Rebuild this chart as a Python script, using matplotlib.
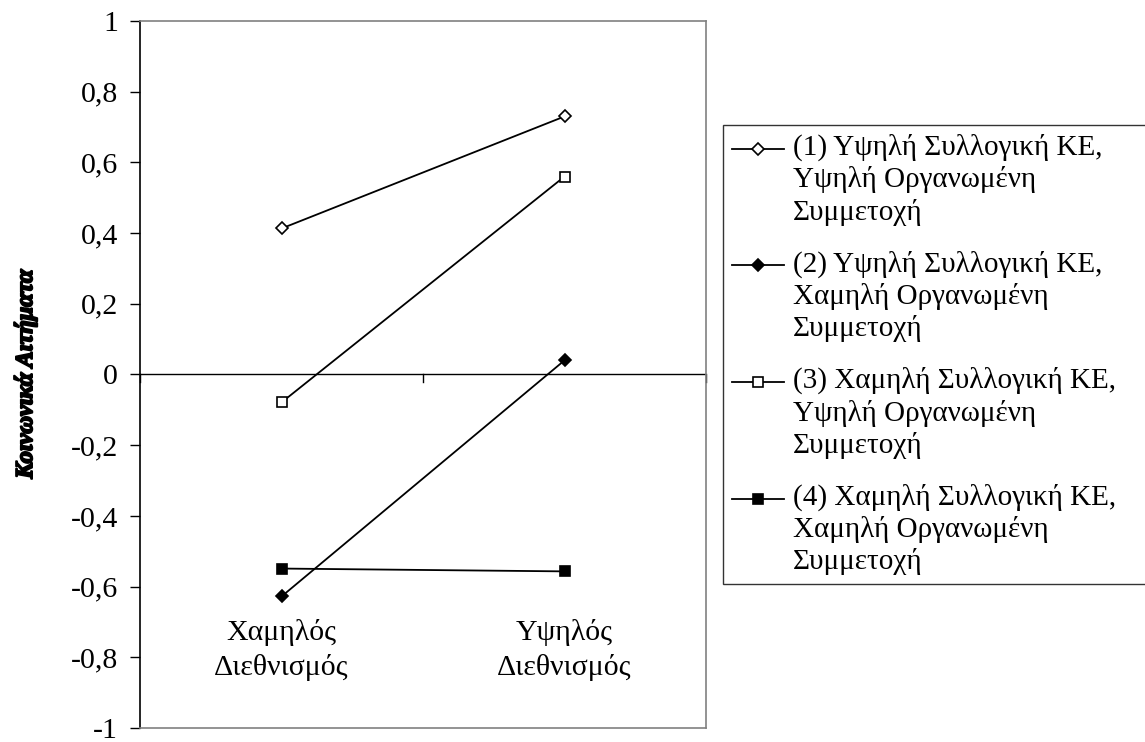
import numpy as np
import matplotlib.pyplot as plt
import matplotlib.patheffects as pe
from matplotlib.legend_handler import HandlerLine2D

plt.rcParams['font.family'] = ['Liberation Serif', 'DejaVu Serif']

categories = ['Χαμηλός\nΔιεθνισμός', 'Υψηλός\nΔιεθνισμός']
labels = [
    '(1) Υψηλή Συλλογική ΚΕ,\nΥψηλή Οργανωμένη\nΣυμμετοχή',
    '(2) Υψηλή Συλλογική ΚΕ,\nΧαμηλή Οργανωμένη\nΣυμμετοχή',
    '(3) Χαμηλή Συλλογική ΚΕ,\nΥψηλή Οργανωμένη\nΣυμμετοχή',
    '(4) Χαμηλή Συλλογική ΚΕ,\nΧαμηλή Οργανωμένη\nΣυμμετοχή',
]
s1 = [0.413, 0.73]
s2 = [-0.628, 0.04]
s3 = [-0.079, 0.56]
s4 = [-0.549, -0.557]
yticks = [-1, -0.8, -0.6, -0.4, -0.2, 0, 0.2, 0.4, 0.6, 0.8, 1]

FS = 21.5      # axis text
LFS = 21       # legend text


class TopLineHandler(HandlerLine2D):
    # put the legend sample next to the first line of a multi-line label
    def create_artists(self, legend, orig_handle, xdescent, ydescent,
                       width, height, fontsize, trans):
        arts = super().create_artists(legend, orig_handle, xdescent, ydescent,
                                      width, height, fontsize, trans)
        for a in arts:
            a.set_ydata(np.asarray(a.get_ydata()) + fontsize * 1.05)
        return arts


fig = plt.figure(figsize=(11.45, 7.42), dpi=100)
ax = fig.add_axes([0.1223, 0.0189, 0.4943, 0.9528])

x = [0, 1]
styles = [
    dict(marker='D', mfc='white', ms=6),
    dict(marker='D', mfc='black', ms=6),
    dict(marker='s', mfc='white', ms=7),
    dict(marker='s', mfc='black', ms=7),
]
lines = []
for vals, st in zip([s1, s2, s3, s4], styles):
    ln, = ax.plot(x, vals, color='black', lw=1.3, mec='black', mew=1.2, **st)
    lines.append(ln)

ax.set_xlim(-0.5, 1.5)
ax.set_ylim(-1, 1)
ax.set_yticks(yticks)
ax.set_yticklabels([('%g' % v).replace('.', ',') for v in yticks], fontsize=FS)
ax.tick_params(axis='y', direction='out', length=7, width=1, pad=9)
ax.set_xticks([])

for side in ['top', 'right', 'bottom']:
    ax.spines[side].set_color('#808080')
    ax.spines[side].set_linewidth(1.2)
ax.spines['left'].set_linewidth(1.2)

# category axis crossing at zero
ax.axhline(0, color='black', lw=1)
for t in [-0.5, 0.5, 1.5]:
    ax.plot([t, t], [0, -0.02], color='black', lw=1, clip_on=False)

for xi, cat in zip(x, categories):
    ax.text(xi, -0.78, cat, ha='center', va='center', fontsize=FS, linespacing=1.4)

ylab = ax.set_ylabel('Κοινωνικά Αιτήματα', fontsize=17.5, fontweight='bold', fontstyle='italic')
ylab.set_path_effects([pe.withStroke(linewidth=1.4, foreground='black')])
ax.yaxis.set_label_coords(-0.182, 0.5)

# legend box runs off the right edge like in the original
leg = fig.legend(lines, labels, loc='upper left',
                 bbox_to_anchor=(0.6314, 0.8315, 0.375, 0.0), mode='expand',
                 fontsize=LFS, frameon=True, fancybox=False, edgecolor='black',
                 handlelength=1.8, handletextpad=0.3, labelspacing=0.85,
                 borderpad=0.3, borderaxespad=0,
                 handler_map={ln: TopLineHandler() for ln in lines})
leg.get_frame().set_linewidth(1)
for t in leg.get_texts():
    t.set_linespacing(1.25)

plt.savefig('out.png', dpi=100)
